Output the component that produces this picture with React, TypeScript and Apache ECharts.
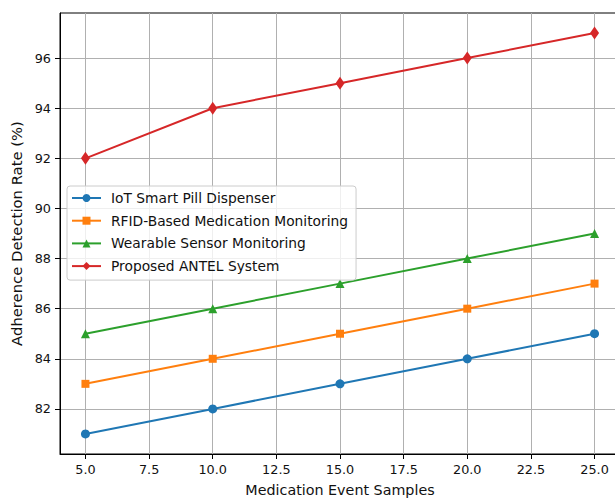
import React, { useEffect, useRef } from "react";
import * as echarts from "echarts";

const samples = [5, 10, 15, 20, 25];
const iotDispenser = [81, 82, 83, 84, 85];
const rfidMonitoring = [83, 84, 85, 86, 87];
const wearableSensor = [85, 86, 87, 88, 89];
const proposedAntel = [92, 94, 95, 96, 97];
const xTicks = [5, 7.5, 10, 12.5, 15, 17.5, 20, 22.5, 25];
const yTicks = [82, 84, 86, 88, 90, 92, 94, 96];

const FONT = "DejaVu Sans";

export default function App() {
  const ref = useRef<HTMLDivElement>(null);
  useEffect(() => {
    const chart = echarts.init(ref.current!, null, { renderer: "svg" });
    const mk = (name: string, vals: number[], color: string, symbol: string, size: any) => ({
      name,
      type: "line",
      data: samples.map((x, i) => [x, vals[i]]),
      symbol,
      symbolSize: size,
      showSymbol: true,
      lineStyle: { color, width: 2 },
      itemStyle: { color, borderWidth: 0 },
      emphasis: { disabled: true },
    });
    chart.setOption({
      animation: false,
      textStyle: { fontFamily: FONT },
      grid: {
        left: 60,
        top: 13,
        width: 560,
        height: 441,
        containLabel: false,
        outerBoundsMode: "none",
        show: true,
        borderColor: "#000",
        borderWidth: 1,
        backgroundColor: "transparent",
      },
      xAxis: {
        type: "value",
        min: 4,
        max: 26,
        name: "Medication Event Samples",
        nameLocation: "middle",
        nameGap: 29,
        nameTextStyle: { fontFamily: FONT, fontSize: 14.3, color: "#111" },
        axisLine: { show: true, lineStyle: { color: "#000", width: 1 } },
        axisTick: { show: true, customValues: xTicks, length: 5, lineStyle: { color: "#000" } },
        axisLabel: {
          customValues: xTicks,
          formatter: (v: number) => v.toFixed(1),
          fontFamily: FONT,
          fontSize: 12.8,
          color: "#111",
          margin: 9,
        },
        splitLine: { show: true, lineStyle: { color: "#b0b0b0", width: 1 } },
      },
      yAxis: {
        type: "value",
        min: 80.2,
        max: 97.8,
        name: "Adherence Detection Rate (%)",
        nameLocation: "middle",
        nameGap: 35,
        nameTextStyle: { fontFamily: FONT, fontSize: 14.8, color: "#111" },
        axisLine: { show: true, lineStyle: { color: "#000", width: 1 } },
        axisTick: { show: true, customValues: yTicks, length: 5, lineStyle: { color: "#000" } },
        axisLabel: {
          customValues: yTicks,
          fontFamily: FONT,
          fontSize: 12.8,
          color: "#111",
          margin: 9,
        },
        splitLine: { show: true, lineStyle: { color: "#b0b0b0", width: 1 } },
      },
      legend: {
        orient: "vertical",
        left: 67,
        top: 186,
        padding: [4, 8, 6, 4],
        itemWidth: 29,
        itemHeight: 10,
        itemGap: 6.7,
        backgroundColor: "rgba(255,255,255,0.8)",
        borderColor: "#cccccc",
        borderWidth: 1,
        borderRadius: 3,
        textStyle: {
          fontFamily: FONT,
          fontSize: 13.8,
          color: "#111",
          lineHeight: 16,
          padding: [0, 0, 0, 5],
        },
        data: [
          "IoT Smart Pill Dispenser",
          "RFID-Based Medication Monitoring",
          "Wearable Sensor Monitoring",
          "Proposed ANTEL System",
        ],
      },
      series: [
        mk("IoT Smart Pill Dispenser", iotDispenser, "#1f77b4", "circle", 9),
        mk("RFID-Based Medication Monitoring", rfidMonitoring, "#ff7f0e", "rect", 8),
        mk("Wearable Sensor Monitoring", wearableSensor, "#2ca02c", "triangle", 9),
        mk("Proposed ANTEL System", proposedAntel, "#d62728", "diamond", [9, 13]),
      ],
    });
    return () => chart.dispose();
  }, []);
  return (
    <div style={{ position: "fixed", left: 0, top: 0, width: 615, height: 499, overflow: "hidden", background: "#fff" }}>
      <div ref={ref} style={{ width: 630, height: 499 }} />
    </div>
  );
}
